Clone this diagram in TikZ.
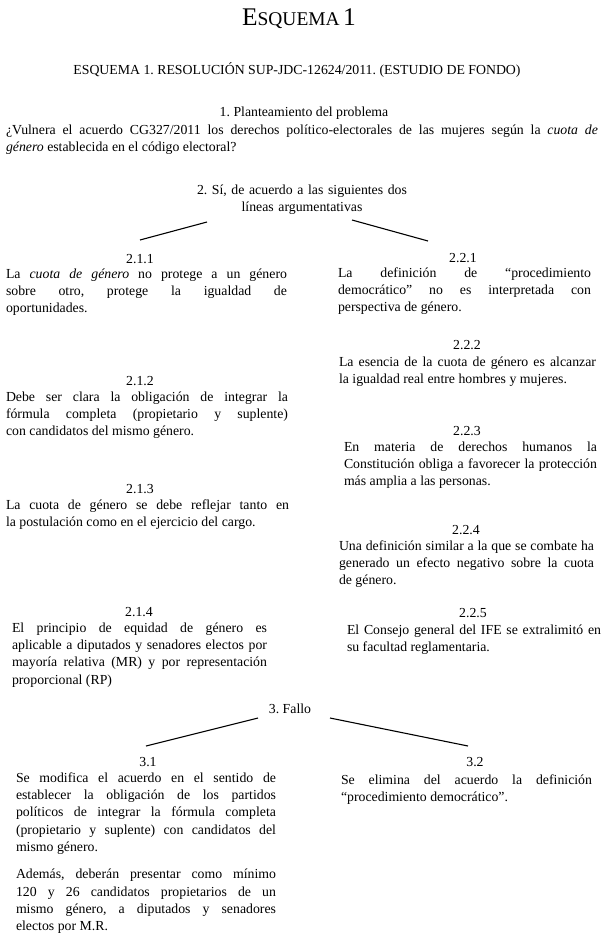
\documentclass[tikz,border=0pt]{standalone}
\usepackage{fontspec}
\setmainfont{Liberation Serif}
\frenchspacing
\hyphenpenalty=10000
\exhyphenpenalty=10000
\tolerance=9999
\emergencystretch=20pt
\begin{document}
\begin{tikzpicture}[x=1bp,y=-1bp,
  every node/.style={inner sep=0pt, outer sep=0pt, font=\fontsize{13.85}{17.5}\selectfont},
  hdr/.style={anchor=base},
  body/.style={anchor=base west, text width=#1, align=justify},
  conn/.style={line width=1.1bp, black}]
\useasboundingbox (0,0) rectangle (604,937);
\fill[white] (0,0) rectangle (604,937);

% title
\node[hdr] (title) at (299,25) {{\fontsize{25.5}{25}\selectfont E}{\fontsize{19.5}{25}\selectfont SQUEMA} {\fontsize{25.5}{25}\selectfont 1}};
\node[hdr] (sub) at (297,74) {ESQUEMA 1. RESOLUCIÓN SUP-JDC-12624/2011. (ESTUDIO DE FONDO)};

% 1
\node[hdr] (p1) at (304,116) {1. Planteamiento del problema};
\node[body=592bp] (p1t) at (6,134) {¿Vulnera el acuerdo CG327/2011 los derechos político-electorales de las mujeres según la \textit{cuota de}\linebreak \textit{género} establecida en el código electoral?};

% 2
\node[anchor=base, text width=300bp, align=center] (p2) at (302,194) {2. Sí, de acuerdo a las siguientes dos\\líneas argumentativas};
\coordinate (l1a) at (207,222);
\coordinate (l1b) at (140,240);
\coordinate (r1a) at (352,220);
\coordinate (r1b) at (428,241);
\draw[conn] (l1a) -- (l1b);
\draw[conn] (r1a) -- (r1b);

% left column
\node[hdr] (h211) at (140,263) {2.1.1};
\node[body=281bp] (b211) at (6,278) {La \textit{cuota de género} no protege a un género\linebreak sobre otro, protege la igualdad de\linebreak oportunidades.};

\node[hdr] (h212) at (140,385) {2.1.2};
\node[body=282bp] (b212) at (6,401) {Debe ser clara la obligación de integrar la\linebreak fórmula completa (propietario y suplente)\linebreak con candidatos del mismo género.};

\node[hdr] (h213) at (140,493) {2.1.3};
\node[body=283bp] (b213) at (6,509) {La cuota de género se debe reflejar tanto en\linebreak la postulación como en el ejercicio del cargo.};

\node[hdr] (h214) at (139,616) {2.1.4};
\node[body=255bp] (b214) at (12,632) {El principio de equidad de género es\linebreak aplicable a diputados y senadores electos por\linebreak mayoría relativa (MR) y por representación\linebreak proporcional (RP)};

% right column
\node[hdr] (h221) at (463,262) {2.2.1};
\node[body=253bp] (b221) at (338,277) {La definición de “procedimiento\linebreak democrático” no es interpretada con\linebreak perspectiva de género.};

\node[hdr] (h222) at (467,349) {2.2.2};
\node[body=257bp] (b222) at (339,366) {La esencia de la cuota de género es alcanzar\linebreak la igualdad real entre hombres y mujeres.};

\node[hdr] (h223) at (467,435) {2.2.3};
\node[body=253bp] (b223) at (344,451) {En materia de derechos humanos la\linebreak Constitución obliga a favorecer la protección\linebreak más amplia a las personas.};

\node[hdr] (h224) at (466,534) {2.2.4};
\node[body=255bp] (b224) at (339,550) {Una definición similar a la que se combate ha\linebreak generado un efecto negativo sobre la cuota\linebreak de género.};

\node[hdr] (h225) at (473,617) {2.2.5};
\node[body=254bp] (b225) at (347,634) {El Consejo general del IFE se extralimitó en\linebreak su facultad reglamentaria.};

% 3
\node[hdr] (p3) at (290,713) {3. Fallo};
\coordinate (l3a) at (258,718);
\coordinate (l3b) at (146,746);
\coordinate (r3a) at (330,718);
\coordinate (r3b) at (468,746);
\draw[conn] (l3a) -- (l3b);
\draw[conn] (r3a) -- (r3b);

\node[hdr] (h31) at (148,766) {3.1};
\node[body=260bp] (b31) at (16,782) {Se modifica el acuerdo en el sentido de\linebreak establecer la obligación de los partidos\linebreak políticos de integrar la fórmula completa\linebreak (propietario y suplente) con candidatos del\linebreak mismo género.\par\vspace{9.5bp}Además, deberán presentar como mínimo\linebreak 120 y 26 candidatos propietarios de un\linebreak mismo género, a diputados y senadores\linebreak electos por M.R.};

\node[hdr] (h32) at (475,766) {3.2};
\node[body=251bp] (b32) at (341,784) {Se elimina del acuerdo la definición\linebreak “procedimiento democrático”.};
\end{tikzpicture}
\end{document}
